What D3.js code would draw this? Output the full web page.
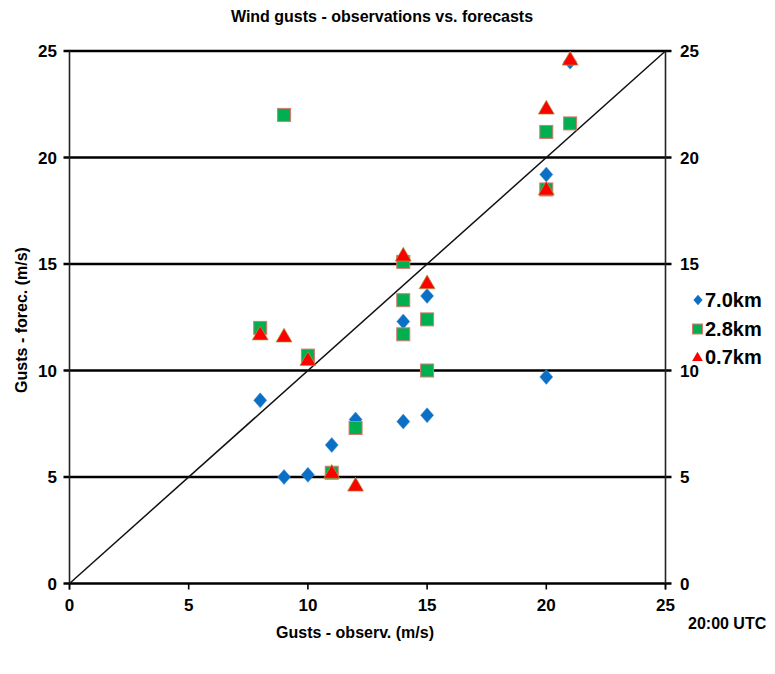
<!DOCTYPE html>
<html><head><meta charset="utf-8">
<script src="https://cdn.jsdelivr.net/npm/d3@7"></script>
<style>
body{margin:0;background:#fff;}
text{font-family:'Liberation Sans Narrow','Arial Narrow','Liberation Sans',Arial,sans-serif;font-weight:bold;fill:#000;}
</style></head>
<body><svg id="c" width="775" height="674"></svg>
<script>
const title = "Wind gusts - observations vs. forecasts";
const xTitle = "Gusts - observ. (m/s)";
const yTitle = "Gusts - forec. (m/s)";
const note = "20:00 UTC";
const ticks = [0,5,10,15,20,25];
const seriesNames = ["7.0km","2.8km","0.7km"];
const obs7 = [8,9,10,11,12,14,14,15,15,20,20,21];
const fc7  = [8.6,5.0,5.1,6.5,7.7,12.3,7.6,13.5,7.9,19.2,9.7,24.5];
const obs28 = [8,9,10,11,12,14,14,14,15,15,20,20,21];
const fc28  = [12.0,22.0,10.7,5.2,7.3,15.1,13.3,11.7,12.4,10.0,21.2,18.5,21.6];
const obs07 = [8,9,10,11,12,14,15,20,20,21];
const fc07  = [11.7,11.6,10.5,5.2,4.6,15.4,14.1,22.3,18.5,24.6];

const svg = d3.select("#c");
const x = d3.scaleLinear().domain([0,25]).range([69.5,665.5]);
const y = d3.scaleLinear().domain([0,25]).range([583.5,51]);

// gridlines (heavy horizontal)
svg.append("g").selectAll("line").data(ticks).join("line")
  .attr("x1",x(0)-6).attr("x2",x(25)+6)
  .attr("y1",d=>y(d)).attr("y2",d=>y(d))
  .attr("stroke","#000").attr("stroke-width",2.4);

// vertical axes
svg.append("line").attr("x1",x(0)).attr("x2",x(0)).attr("y1",y(25)).attr("y2",y(0)+6)
  .attr("stroke","#222").attr("stroke-width",1.6);
svg.append("line").attr("x1",x(25)).attr("x2",x(25)).attr("y1",y(25)).attr("y2",y(0)+6)
  .attr("stroke","#222").attr("stroke-width",1.6);

// x ticks
svg.append("g").selectAll("line").data(ticks).join("line")
  .attr("x1",d=>x(d)).attr("x2",d=>x(d)).attr("y1",y(0)).attr("y2",y(0)+6)
  .attr("stroke","#000").attr("stroke-width",1.6);

// tick labels
svg.append("g").selectAll("text").data(ticks).join("text")
  .attr("x",d=>x(d)).attr("y",y(0)+27).attr("text-anchor","middle")
  .style("font-size","17px").text(d=>d);
svg.append("g").selectAll("text").data(ticks).join("text")
  .attr("x",57).attr("y",d=>y(d)+6).attr("text-anchor","end")
  .style("font-size","17px").text(d=>d);
svg.append("g").selectAll("text").data(ticks).join("text")
  .attr("x",680).attr("y",d=>y(d)+6).attr("text-anchor","start")
  .style("font-size","17px").text(d=>d);

// diagonal 1:1 line
svg.append("line").attr("x1",x(0)).attr("y1",y(0)).attr("x2",x(25)).attr("y2",y(25))
  .attr("stroke","#111").attr("stroke-width",1.5);

// custom diamond symbol (wider than d3's)
const wideDiamond = {draw(ctx,size){const h=Math.sqrt(size)/2; const w=h*0.87;
  ctx.moveTo(0,-h);ctx.lineTo(w,0);ctx.lineTo(0,h);ctx.lineTo(-w,0);ctx.closePath();}};
const diamond = d3.symbol().type(wideDiamond).size(225);
const tri = d3.symbol().type(d3.symbolTriangle).size(110);

const d7 = obs7.map((o,i)=>({x:o,y:fc7[i]}));
const d28 = obs28.map((o,i)=>({x:o,y:fc28[i]}));
const d07 = obs07.map((o,i)=>({x:o,y:fc07[i]}));

svg.append("g").selectAll("path").data(d7).join("path")
  .attr("d",diamond).attr("transform",d=>`translate(${x(d.x)},${y(d.y)})`)
  .attr("fill","#0b6fc6").attr("stroke","#4a90d0").attr("stroke-width",0.5);
svg.append("g").selectAll("rect").data(d28).join("rect")
  .attr("x",d=>x(d.x)-6.5).attr("y",d=>y(d.y)-6.5).attr("width",13).attr("height",13)
  .attr("fill","#00b050").attr("stroke","#d9786e").attr("stroke-width",1);
svg.append("g").selectAll("path").data(d07).join("path")
  .attr("d",tri).attr("transform",d=>`translate(${x(d.x)},${y(d.y)+1})`)
  .attr("fill","#ff0000").attr("stroke","#a0a040").attr("stroke-width",0.7);

// legend
const lg = svg.append("g");
const ly = [300,329,357];
lg.append("path").attr("d",d3.symbol().type(wideDiamond).size(110))
  .attr("transform",`translate(698,${ly[0]})`).attr("fill","#0b6fc6");
lg.append("rect").attr("x",692.5).attr("y",ly[1]-5).attr("width",10).attr("height",10)
  .attr("fill","#00b050").attr("stroke","#d9786e").attr("stroke-width",1);
lg.append("path").attr("d",d3.symbol().type(d3.symbolTriangle).size(50))
  .attr("transform",`translate(697.5,${ly[2]+1})`).attr("fill","#ff0000");
lg.selectAll("text").data(seriesNames).join("text")
  .attr("x",705).attr("y",(d,i)=>ly[i]+7).style("font-size","20px").text(d=>d);

// titles
svg.append("text").attr("x",382).attr("y",22).attr("text-anchor","middle")
  .style("font-size","16px").text(title);
svg.append("text").attr("x",355).attr("y",638).attr("text-anchor","middle")
  .style("font-size","16px").text(xTitle);
svg.append("text").attr("transform","translate(27,320) rotate(-90)").attr("text-anchor","middle")
  .style("font-size","16px").text(yTitle);
svg.append("text").attr("x",688).attr("y",629).attr("text-anchor","start")
  .style("font-size","16px").text(note);
</script></body></html>
